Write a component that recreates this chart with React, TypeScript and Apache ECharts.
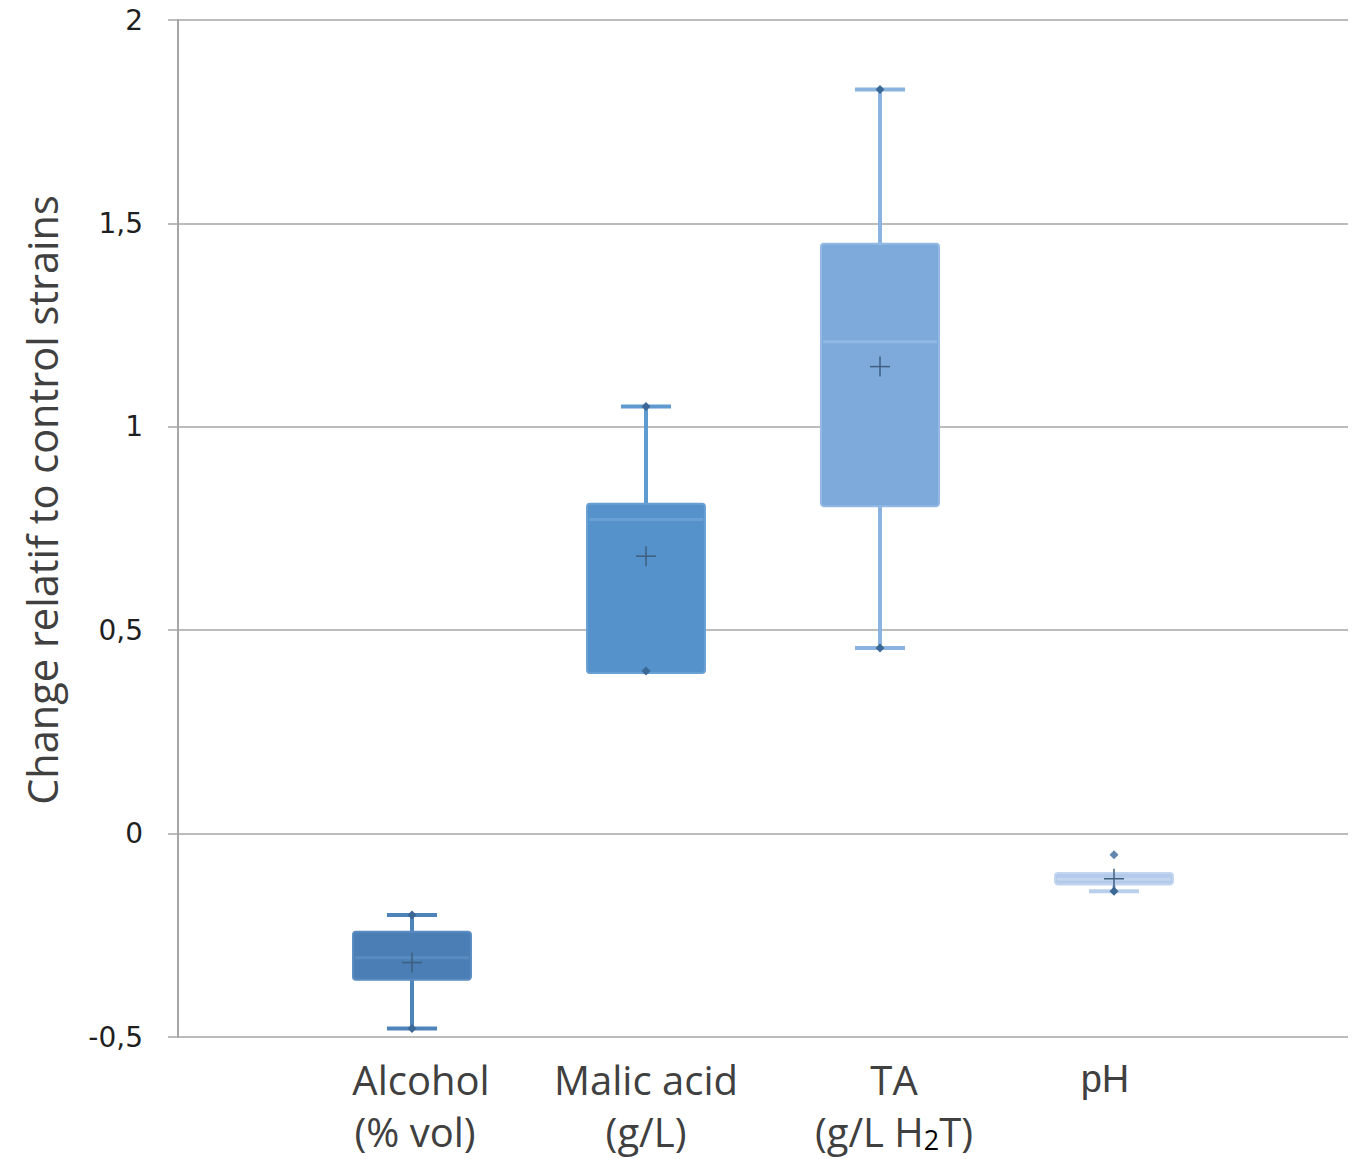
import React, { useEffect, useRef } from "react";
import * as echarts from "echarts";

// Category positions on the x value axis (0..5)
const positions = [1, 2, 3, 4];
const categoryLines = [["Alcohol", "(% vol)"], ["Malic acid", "(g/L)"], ["TA", "(g/L H", "2", "T)"], ["pH"]];
// [min, Q1, median, Q3, max, mean]
const alcoholStats = [-0.479, -0.359, -0.305, -0.241, -0.2, -0.317];
const malicStats = [0.4, 0.395, 0.772, 0.811, 1.05, 0.682];
const taStats = [0.456, 0.805, 1.209, 1.45, 1.829, 1.148];
const phStats = [-0.142, -0.125, -0.112, -0.097, -0.097, -0.111];
const phOutliers = [[4, -0.052]];
const yTicks = [-0.5, 0, 0.5, 1, 1.5, 2];

const fills = ["#4a7eb5", "#5592cb", "#7eaadb", "#b3caea"];
const borders = ["#5a8cc1", "#68a0d4", "#92b9e3", "#c2d5ef"];
const whiskerCols = ["#4f84bb", "#5f9ad1", "#8ab4e0", "#b9cfec"];
const dotColor = "#3b6897";
const meanColor = "#3f5f80";

const allStats = [alcoholStats, malicStats, taStats, phStats];

export default function App() {
  const ref = useRef<HTMLDivElement>(null);
  useEffect(() => {
    if (!ref.current) return;
    const chart = echarts.init(ref.current, undefined, { renderer: "svg" });
    const data = positions.map((p, i) => [p, ...allStats[i]]);
    const base = { fontFamily: "Open Sans", fontSize: 40, color: "#404040", lineHeight: 52 };
    const option: any = {
      animation: false,
      backgroundColor: "#ffffff",
      grid: { left: 178, top: 20, right: 7, bottom: 122, containLabel: false },
      xAxis: {
        type: "value",
        min: 0,
        max: 5,
        interval: 1,
        splitLine: { show: false },
        axisTick: { show: false },
        axisLine: { show: false },
        axisLabel: {
          margin: 16,
          formatter: (v: number) => {
            const i = positions.indexOf(v);
            if (i < 0) return "";
            const L = categoryLines[i];
            if (i === 0) return "{a1|" + L[0] + "}\n{a2|" + L[1] + "}";
            if (i === 1) return "{a|" + L[0] + "}\n{a|" + L[1] + "}";
            if (i === 2) return "{t|" + L[0] + "}\n{t|" + L[1] + "}{s|" + L[2] + "}{a|" + L[3] + "}";
            return "{p|" + L[0] + "}";
          },
          rich: {
            a: base,
            a1: { ...base, padding: [0, 0, 0, 18] },
            a2: { ...base, padding: [0, 0, 0, 6] },
            t: { ...base, padding: [0, 0, 0, 28] },
            s: { fontFamily: "Open Sans", fontSize: 27, color: "#000000", lineHeight: 26, padding: [16, 0, 0, 0] },
            p: { fontFamily: "Liberation Sans", fontSize: 38, color: "#404040", lineHeight: 52, padding: [0, 18, 0, 0] },
          },
        },
      },
      yAxis: {
        type: "value",
        min: yTicks[0],
        max: yTicks[yTicks.length - 1],
        interval: 0.5,
        axisLine: { show: true, lineStyle: { color: "#a6a6a6", width: 2 } },
        axisTick: { show: true, length: 10, lineStyle: { color: "#a6a6a6", width: 1.5 } },
        splitLine: { show: true, lineStyle: { color: "#a6a6a6", width: 1.5 } },
        axisLabel: {
          margin: 35,
          fontFamily: "DejaVu Sans",
          fontSize: 28,
          color: "#1f1f1f",
          formatter: (v: number) => String(v).replace(".", ","),
        },
      },
      graphic: [
        {
          type: "text",
          x: 42,
          y: 500,
          rotation: Math.PI / 2,
          style: {
            text: "Change relatif to control strains",
            fontFamily: "Open Sans",
            fontSize: 41.5,
            fill: "#404040",
            textAlign: "center",
            textVerticalAlign: "middle",
          },
        },
      ],
      series: [
        {
          type: "custom",
          data,
          renderItem: (params: any, api: any) => {
            const i = params.dataIndex;
            const x = api.value(0);
            const mn = api.value(1);
            const q1 = api.value(2);
            const md = api.value(3);
            const q3 = api.value(4);
            const mx = api.value(5);
            const mean = api.value(6);
            const band = api.size([1, 0])[0];
            const hb = band * 0.252;
            const hc = band * 0.107;
            const [cx, yMn] = api.coord([x, mn]);
            const yQ1 = api.coord([x, q1])[1];
            const yMd = api.coord([x, md])[1];
            const yQ3 = api.coord([x, q3])[1];
            const yMx = api.coord([x, mx])[1];
            const yMean = api.coord([x, mean])[1];
            const wc = whiskerCols[i];
            const diamond = (y: number) => ({
              type: "polygon",
              shape: { points: [[cx, y - 4.5], [cx + 4.5, y], [cx, y + 4.5], [cx - 4.5, y]] },
              style: { fill: dotColor },
            });
            const boxTop = Math.min(yQ1, yQ3);
            const boxBot = Math.max(yQ1, yQ3);
            const boxH = boxBot - boxTop;
            const children: any[] = [];
            if (yMn > boxBot) {
              children.push({ type: "line", shape: { x1: cx, y1: yMn, x2: cx, y2: boxBot }, style: { stroke: wc, lineWidth: 4 } });
              children.push({ type: "line", shape: { x1: cx - hc, y1: yMn, x2: cx + hc, y2: yMn }, style: { stroke: wc, lineWidth: 4 } });
            }
            if (yMx < boxTop) {
              children.push({ type: "line", shape: { x1: cx, y1: yMx, x2: cx, y2: boxTop }, style: { stroke: wc, lineWidth: 4 } });
              children.push({ type: "line", shape: { x1: cx - hc, y1: yMx, x2: cx + hc, y2: yMx }, style: { stroke: wc, lineWidth: 4 } });
            }
            children.push({
              type: "rect",
              shape: { x: cx - hb, y: boxTop, width: hb * 2, height: boxH, r: 3 },
              style: { fill: fills[i], stroke: borders[i], lineWidth: 2 },
            });
            children.push({ type: "line", shape: { x1: cx - hb + 2, y1: yMd, x2: cx + hb - 2, y2: yMd }, style: { stroke: borders[i], lineWidth: 3 } });
            children.push(diamond(yMn));
            if (yMx < boxTop) children.push(diamond(yMx));
            children.push({ type: "line", shape: { x1: cx - 10, y1: yMean, x2: cx + 10, y2: yMean }, style: { stroke: meanColor, lineWidth: 1.5 } });
            children.push({ type: "line", shape: { x1: cx, y1: yMean - 10, x2: cx, y2: yMean + 10 }, style: { stroke: meanColor, lineWidth: 1.5 } });
            return { type: "group", children };
          },
          z: 3,
        },
        {
          type: "scatter",
          data: phOutliers,
          symbol: "diamond",
          symbolSize: 9,
          itemStyle: { color: dotColor },
          z: 4,
        },
      ],
    };
    chart.setOption(option);
    return () => chart.dispose();
  }, []);
  return (
    <div
      ref={ref}
      style={{ position: "absolute", left: 0, top: 0, width: 1355, height: 1159 }}
    />
  );
}
